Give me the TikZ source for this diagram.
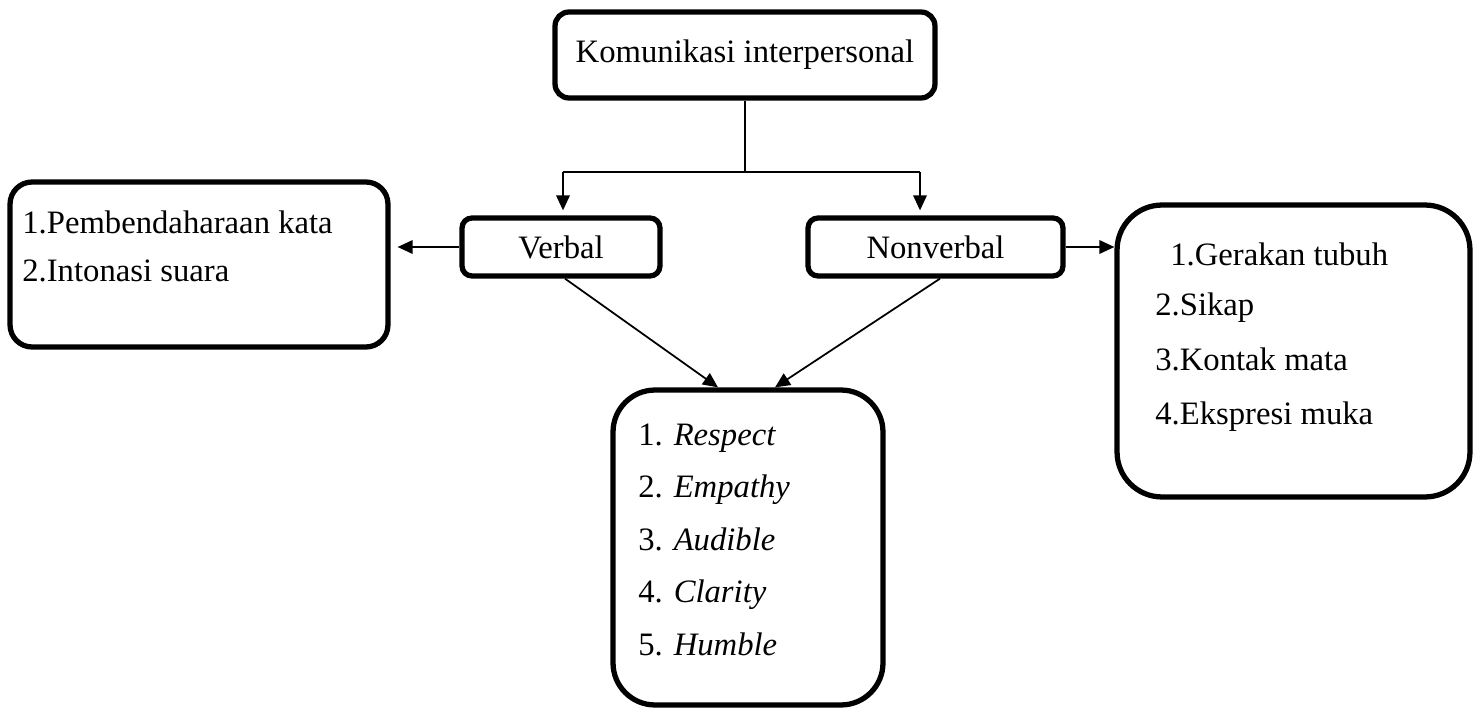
\documentclass[tikz,border=0pt]{standalone}
\usepackage{fontspec}
\setmainfont{Liberation Serif}
\usetikzlibrary{positioning, arrows.meta}

\begin{document}
\begin{tikzpicture}[
    x=0.02cm, y=-0.02cm,
    every node/.style={font=\fontsize{18.6}{22}\selectfont},
    kotak/.style={draw, line width=3pt, rounded corners=#1, inner sep=0pt},
    kotak/.default=0.2cm,
    butir/.style={anchor=base west, inner sep=0pt},
    garis/.style={line width=1pt},
    arr/.style={garis, -{Triangle[length=0.3cm, width=0.27cm]}}
]
\useasboundingbox (0,0) rectangle (1477,709);

% ---- kotak utama ----
\node[kotak=0.28cm, minimum width=7.6cm, minimum height=1.72cm] (kom) at (745,55) {Komunikasi interpersonal};
\node[kotak, minimum width=3.96cm, minimum height=1.16cm] (verbal)    at (561,247) {Verbal};
\node[kotak, minimum width=5.1cm,  minimum height=1.16cm] (nonverbal) at (935.5,247) {Nonverbal};

% ---- kotak daftar ----
\node[kotak=0.44cm, minimum width=7.56cm, minimum height=3.3cm]  (kata)    at (199,264.5) {};
\node[kotak=0.9cm,  minimum width=7.06cm, minimum height=5.84cm] (ciri)    at (1293.5,351) {};
\node[kotak=0.84cm, minimum width=5.4cm,  minimum height=6.3cm]  (prinsip) at (748,547.5) {};

% ---- isi verbal ----
\node[butir] (k1) at (22,234) {1.Pembendaharaan kata};
\node[butir] (k2) at (22,282) {2.Intonasi suara};

% ---- isi nonverbal ----
\node[butir] (c1) at (1170,266) {1.Gerakan tubuh};
\node[butir] (c2) at (1155,316) {2.Sikap};
\node[butir] (c3) at (1155,371) {3.Kontak mata};
\node[butir] (c4) at (1155,424) {4.Ekspresi muka};

% ---- isi prinsip ----
\node[butir] (p1) at (638,445) {1. \textit{Respect}};
\node[butir] (p2) at (638,497) {2. \textit{Empathy}};
\node[butir] (p3) at (638,550) {3. \textit{Audible}};
\node[butir] (p4) at (638,602) {4. \textit{Clarity}};
\node[butir] (p5) at (638,655) {5. \textit{Humble}};

% ---- percabangan ----
\coordinate (cabL) at (563,172);
\coordinate (cabR) at (920,172);
\draw[garis] (kom.south) -- (kom.south |- cabL);
\draw[garis] (cabL) -- (cabR);
\draw[arr, shorten >=0.1cm] (cabL) -- (cabL |- verbal.north);
\draw[arr, shorten >=0.1cm] (cabR) -- (cabR |- nonverbal.north);

% ---- ke samping ----
\draw[arr, shorten >=0.14cm] (verbal.west) -- (verbal.west -| kata.east);
\draw[arr] (nonverbal.east) -- (nonverbal.east -| ciri.west);

% ---- ke bawah ----
\draw[arr] ([xshift=0.08cm]verbal.south) -- ([xshift=-0.6cm]prinsip.north);
\draw[arr] ([xshift=0.09cm]nonverbal.south) -- ([xshift=0.54cm]prinsip.north);

\end{tikzpicture}
\end{document}
